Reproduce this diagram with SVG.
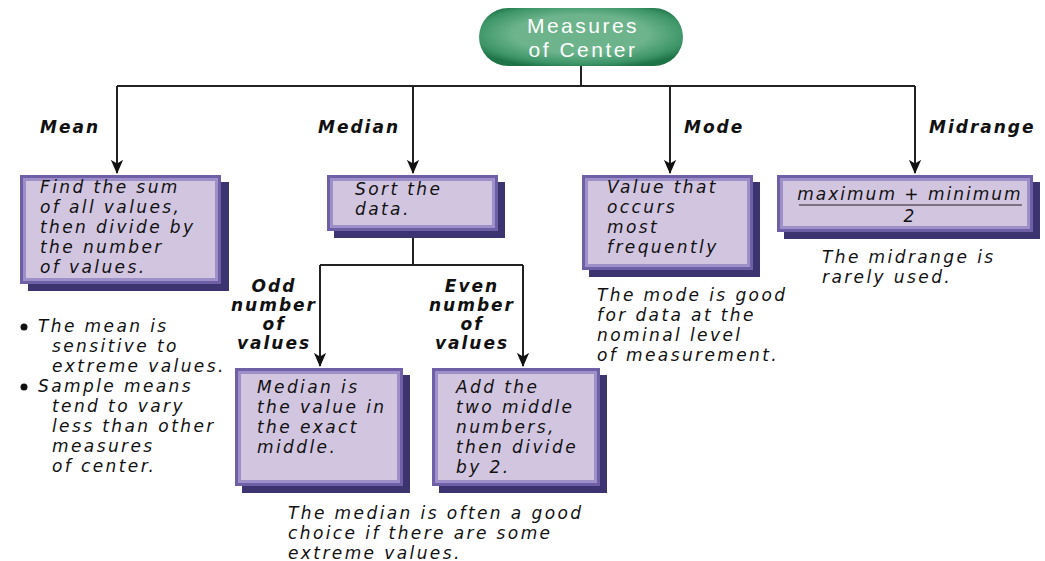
<svg xmlns="http://www.w3.org/2000/svg" width="1045" height="561" viewBox="0 0 1045 561">
<style>
.t{font-family:"DejaVu Sans",sans-serif;font-style:oblique;font-size:17px;letter-spacing:2.4px;fill:#111}
.lb{font-family:"DejaVu Sans",sans-serif;font-style:oblique;font-weight:bold;font-size:17px;letter-spacing:2px;fill:#111}
.ln{stroke:#222;stroke-width:2;fill:none}
.sh{fill:#3b3470}
.bo{fill:#6f5fa6}
.bi{fill:#9d8fc8}
.bf{fill:#d2c5e0}
.pt{font-family:"Liberation Sans",sans-serif;font-size:21px;letter-spacing:2.5px;fill:#fff}
</style>
<defs>
<marker id="arr" markerWidth="14" markerHeight="16" refX="15" refY="7" orient="auto" markerUnits="userSpaceOnUse" viewBox="0 0 16 14">
<path d="M0,0 L4,7 L0,14 L16,7 Z" fill="#111"/>
</marker>
<radialGradient id="pg" cx="50%" cy="45%" r="60%">
<stop offset="0.55" stop-color="#6db48c"/>
<stop offset="0.85" stop-color="#3d9568"/>
<stop offset="1" stop-color="#1f7447"/>
</radialGradient>
</defs>

<g id="connectors">
<path class="ln" d="M581,66 V86"/>
<path class="ln" d="M117,86 H915"/>
<path class="ln" d="M117,86 V173" marker-end="url(#arr)"/>
<path class="ln" d="M413,86 V173" marker-end="url(#arr)"/>
<path class="ln" d="M670,86 V173" marker-end="url(#arr)"/>
<path class="ln" d="M915,86 V173" marker-end="url(#arr)"/>
<path class="ln" d="M413,231 V265"/>
<path class="ln" d="M320,265 H523"/>
<path class="ln" d="M320,265 V366" marker-end="url(#arr)"/>
<path class="ln" d="M523,265 V366" marker-end="url(#arr)"/>
</g>

<g id="root">
<rect x="479" y="8" width="204" height="58" rx="29" fill="url(#pg)"/>
<text class="pt" x="583" y="33" text-anchor="middle">Measures</text>
<text class="pt" x="583" y="57" text-anchor="middle">of Center</text>
</g>

<g id="labels">
<text class="lb" x="40" y="133">Mean</text>
<text class="lb" x="318" y="133">Median</text>
<text class="lb" x="684" y="133">Mode</text>
<text class="lb" x="929" y="133">Midrange</text>
<text class="lb" text-anchor="middle" x="274" y="292">Odd</text>
<text class="lb" text-anchor="middle" x="274" y="311">number</text>
<text class="lb" text-anchor="middle" x="274" y="330">of</text>
<text class="lb" text-anchor="middle" x="274" y="349">values</text>
<text class="lb" text-anchor="middle" x="472" y="292">Even</text>
<text class="lb" text-anchor="middle" x="472" y="311">number</text>
<text class="lb" text-anchor="middle" x="472" y="330">of</text>
<text class="lb" text-anchor="middle" x="472" y="349">values</text>
</g>

<g id="mean">
<rect class="sh" x="28" y="182" width="201" height="109"/>
<rect class="bo" x="20" y="175" width="201" height="109"/>
<rect class="bi" x="23" y="178" width="195" height="103"/>
<rect class="bf" x="26" y="181" width="189" height="97"/>
<text class="t" x="40" y="193">Find the sum</text>
<text class="t" x="40" y="213">of all values,</text>
<text class="t" x="40" y="233">then divide by</text>
<text class="t" x="40" y="253">the number</text>
<text class="t" x="40" y="273">of values.</text>
</g>

<g id="median">
<rect class="sh" x="334" y="182" width="171" height="56"/>
<rect class="bo" x="327" y="175" width="171" height="56"/>
<rect class="bi" x="330" y="178" width="165" height="50"/>
<rect class="bf" x="333" y="181" width="159" height="44"/>
<text class="t" x="355" y="195">Sort the</text>
<text class="t" x="355" y="215">data.</text>
</g>

<g id="mode">
<rect class="sh" x="589" y="182" width="171" height="95"/>
<rect class="bo" x="582" y="175" width="171" height="95"/>
<rect class="bi" x="585" y="178" width="165" height="89"/>
<rect class="bf" x="588" y="181" width="159" height="83"/>
<text class="t" x="607" y="193">Value that</text>
<text class="t" x="607" y="213">occurs</text>
<text class="t" x="607" y="233">most</text>
<text class="t" x="607" y="253">frequently</text>
</g>

<g id="midrange">
<rect class="sh" x="784" y="182" width="256" height="57"/>
<rect class="bo" x="777" y="175" width="256" height="57"/>
<rect class="bi" x="780" y="178" width="250" height="51"/>
<rect class="bf" x="783" y="181" width="244" height="45"/>
<text class="t" x="910" y="200" text-anchor="middle" style="letter-spacing:2px">maximum + minimum</text>
<line x1="799" y1="205" x2="1022" y2="205" stroke="#222" stroke-width="1.2"/>
<text class="t" x="910" y="222" text-anchor="middle">2</text>
</g>

<g id="odd">
<rect class="sh" x="242" y="375" width="168" height="118"/>
<rect class="bo" x="235" y="368" width="168" height="118"/>
<rect class="bi" x="238" y="371" width="162" height="112"/>
<rect class="bf" x="241" y="374" width="156" height="106"/>
<text class="t" x="257" y="393">Median is</text>
<text class="t" x="257" y="413">the value in</text>
<text class="t" x="257" y="433">the exact</text>
<text class="t" x="257" y="453">middle.</text>
</g>

<g id="even">
<rect class="sh" x="439" y="375" width="168" height="118"/>
<rect class="bo" x="432" y="368" width="168" height="118"/>
<rect class="bi" x="435" y="371" width="162" height="112"/>
<rect class="bf" x="438" y="374" width="156" height="106"/>
<text class="t" x="456" y="393">Add the</text>
<text class="t" x="456" y="413">two middle</text>
<text class="t" x="456" y="433">numbers,</text>
<text class="t" x="456" y="453">then divide</text>
<text class="t" x="456" y="473">by 2.</text>
</g>

<g id="notes">
<circle cx="24" cy="327" r="3.5" fill="#111"/>
<text class="t" x="38" y="332">The mean is</text>
<text class="t" x="52" y="352">sensitive to</text>
<text class="t" x="52" y="372">extreme values.</text>
<circle cx="24" cy="387" r="3.5" fill="#111"/>
<text class="t" x="38" y="392">Sample means</text>
<text class="t" x="52" y="412">tend to vary</text>
<text class="t" x="52" y="432">less than other</text>
<text class="t" x="52" y="452">measures</text>
<text class="t" x="52" y="472">of center.</text>
<text class="t" x="597" y="301">The mode is good</text>
<text class="t" x="597" y="321">for data at the</text>
<text class="t" x="597" y="341">nominal level</text>
<text class="t" x="597" y="361">of measurement.</text>
<text class="t" x="822" y="263">The midrange is</text>
<text class="t" x="822" y="283">rarely used.</text>
<text class="t" x="288" y="519">The median is often a good</text>
<text class="t" x="288" y="539">choice if there are some</text>
<text class="t" x="288" y="559">extreme values.</text>
</g>
</svg>
